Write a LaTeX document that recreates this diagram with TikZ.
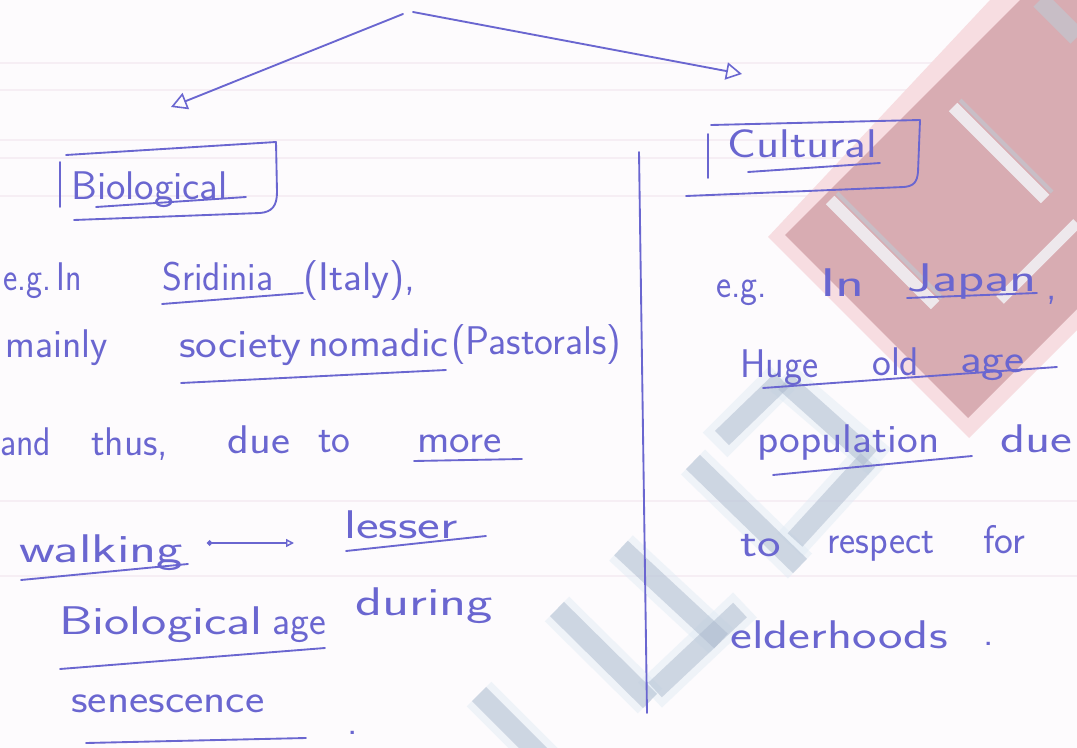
\documentclass[tikz,border=0pt]{standalone}
\usepackage{fontspec}
\usetikzlibrary{arrows.meta}

% pen and paper colours
\definecolor{inkc}{RGB}{106,102,208}
\definecolor{paper}{RGB}{253,251,253}
\definecolor{ruling}{RGB}{246,238,244}
\definecolor{pinkL}{RGB}{247,221,225}
\definecolor{pinkD}{RGB}{216,172,178}
\definecolor{wmwhite}{RGB}{238,232,236}
\definecolor{wmgreyp}{RGB}{200,190,198}
\definecolor{wmblue}{RGB}{172,186,206}
\definecolor{wmcyan}{RGB}{226,236,245}

\newcommand\handfont{\sffamily\fontsize{30}{32}\selectfont}
% horizontal stretch of a handwritten word
\newcommand\sx[2]{\scalebox{#1}[1]{#2}}

\tikzset{
  pen/.style={draw=inkc, line width=1.4pt, line cap=round, line join=round},
  word/.style={text=inkc, font=\handfont, anchor=base west, inner sep=0pt},
  headL/.style={-{Triangle[open, length=12pt, width=13pt, line width=1.2pt]}},
  band/.style={line width=15pt, line cap=butt},
  lband/.style={line width=26pt, line cap=butt},
}

\begin{document}
\begin{tikzpicture}[x=0.75pt, y=-0.75pt]
\useasboundingbox (0,0) rectangle (1077,748);
\fill[paper] (0,0) rectangle (1077,748);

% faint ruling of the sheet
\foreach \yy in {63,90,140,158,196,501,576}
  \draw[ruling, line width=1pt] (0,\yy) -- (1077,\yy);

% background logo, pink part
\fill[pinkL] (990,0) -- (768,237) -- (969,438) -- (1077,330) -- (1077,0) -- cycle;
\fill[pinkD] (1020,0) -- (785,235) -- (968,418) -- (1077,309) -- (1077,0) -- cycle;
\draw[wmwhite, line width=9pt] (830,200) -- (935,305);
\draw[wmgreyp, line width=3pt] (837,193) -- (942,298);
\draw[wmwhite, line width=9pt] (953,107) -- (1045,199);
\draw[wmgreyp, line width=3pt] (960,100) -- (1052,192);
\draw[wmgreyp, line width=14pt] (1040,0) -- (1077,37);
\draw[wmwhite, line width=8pt] (1000,300) -- (1077,223);

% background logo, blue part
\begin{scope}[opacity=0.5]
\draw[wmcyan, lband] (693,462) -- (800,566);
\draw[wmcyan, lband] (621,548) -- (721,641);
\draw[wmcyan, lband] (557,609) -- (650,701);
\draw[wmcyan, lband] (479,694) -- (560,775);
\draw[wmcyan, lband] (650,695) -- (745,605);
\draw[wmcyan, lband] (790,545) -- (872,455);
\draw[wmcyan, lband] (715,445) -- (782,378);
\draw[wmcyan, lband] (782,378) -- (880,462);
\draw[wmblue, band] (693,462) -- (800,566);
\draw[wmblue, band] (621,548) -- (721,641);
\draw[wmblue, band] (557,609) -- (650,701);
\draw[wmblue, band] (479,694) -- (560,775);
\draw[wmblue, band] (655,690) -- (740,610);
\draw[wmblue, band] (795,540) -- (868,460);
\draw[wmblue, band] (722,438) -- (782,380);
\draw[wmblue, band] (785,382) -- (870,458);
\end{scope}

% branching arrows at the top
\coordinate (apexL) at (403,14);
\coordinate (apexR) at (413,12);
\coordinate (tipBio) at (171,107);
\coordinate (tipCul) at (742,74);
\draw[pen, headL] (apexL) -- (tipBio);
\draw[pen, headL] (apexR) -- (tipCul);

% heading boxes
\node[word] (bio) at (71,200) {\sx{1.03}{Biological}};
\draw[pen] (60,162) -- (60,207);
\draw[pen] (66,155) -- (276,142) -- (277,192) .. controls (277,206) and (272,212) .. (260,213) -- (74,220);
\draw[pen] (96,207) -- (246,197);

\node[word] (cul) at (727,158) {\sx{1.2}{Cultural}};
\draw[pen] (708,134) -- (708,178);
\draw[pen] (711,125) -- (920,120) -- (918,172) .. controls (917,182) and (914,186) .. (904,187) -- (686,196);
\draw[pen] (748,172) -- (880,163);

% dividing line
\coordinate (divTop) at (639,152);
\coordinate (divBot) at (647,713);
\draw[pen] (divTop) -- (divBot);

% left column
\node[word] (l1a) at (3,291) {\sx{0.85}{e.g.}};
\node[word] (l1b) at (56,291) {\sx{0.85}{In}};
\node[word] (l1c) at (162,291) {\sx{0.95}{Sridinia}};
\node[word] (l1d) at (303,291) {\sx{1.04}{(Italy),}};
\draw[pen] (162,304) -- (303,293);

\node[word] (l2a) at (5,358) {mainly};
\node[word] (l2b) at (179,358) {\sx{1.15}{society}};
\node[word] (l2c) at (308,356) {\sx{1.07}{nomadic}};
\node[word] (l2d) at (451,354) {(Pastorals)};
\draw[pen] (181,383) -- (446,370);

\node[word] (l3a) at (0,455) {\sx{0.9}{and}};
\node[word] (l3b) at (91,455) {thus,};
\node[word] (l3c) at (227,453) {\sx{1.13}{due}};
\node[word] (l3d) at (318,452) {to};
\node[word] (l3e) at (417,452) {\sx{1.09}{more}};
\draw[pen] (414,461) -- (522,459);

\node[word] (l4a) at (19,562) {\sx{1.4}{walking}};
\node[word] (l4b) at (344,538) {\sx{1.35}{lesser}};
\draw[pen] (21,580) -- (188,564);
\draw[pen] (346,551) -- (486,536);
\coordinate (wTail) at (207,543);
\coordinate (wHead) at (294,543);
\draw[pen, {Circle[length=4pt]}-{Triangle[open, length=6pt, width=6pt, line width=1.1pt]}] (wTail) -- (wHead);

\node[word] (l5a) at (59,634) {\sx{1.34}{Biological}};
\node[word] (l5b) at (272,634) {age};
\node[word] (l5c) at (355,615) {\sx{1.4}{during}};
\draw[pen] (60,669) -- (325,648);

\node[word] (l6a) at (71,712) {\sx{1.15}{senescence}};
\node[word] (l6b) at (347,734) {.};
\draw[pen] (86,743) -- (306,738);

% right column
\node[word] (r1a) at (716,298) {\sx{0.9}{e.g.}};
\node[word] (r1b) at (820,297) {\sx{1.5}{In}};
\node[word] (r1c) at (907,292) {\sx{1.4}{Japan}};
\node[word] (r1d) at (1046,300) {,};
\draw[pen] (907,298) -- (1037,293);

\node[word] (r2a) at (740,377) {\sx{0.96}{Huge}};
\node[word] (r2b) at (872,375) {old};
\node[word] (r2c) at (960,373) {\sx{1.2}{age}};
\draw[pen] (763,388) -- (1057,367);

\node[word] (r3a) at (757,452) {\sx{1.1}{population}};
\node[word] (r3b) at (1000,452) {\sx{1.3}{due}};
\draw[pen] (773,475) -- (972,456);

\node[word] (r4a) at (740,556) {\sx{1.25}{to}};
\node[word] (r4b) at (827,553) {\sx{0.96}{respect}};
\node[word] (r4c) at (983,553) {for};

\node[word] (r5a) at (730,648) {\sx{1.3}{elderhoods}};
\node[word] (r5b) at (983,645) {.};
\end{tikzpicture}
\end{document}
